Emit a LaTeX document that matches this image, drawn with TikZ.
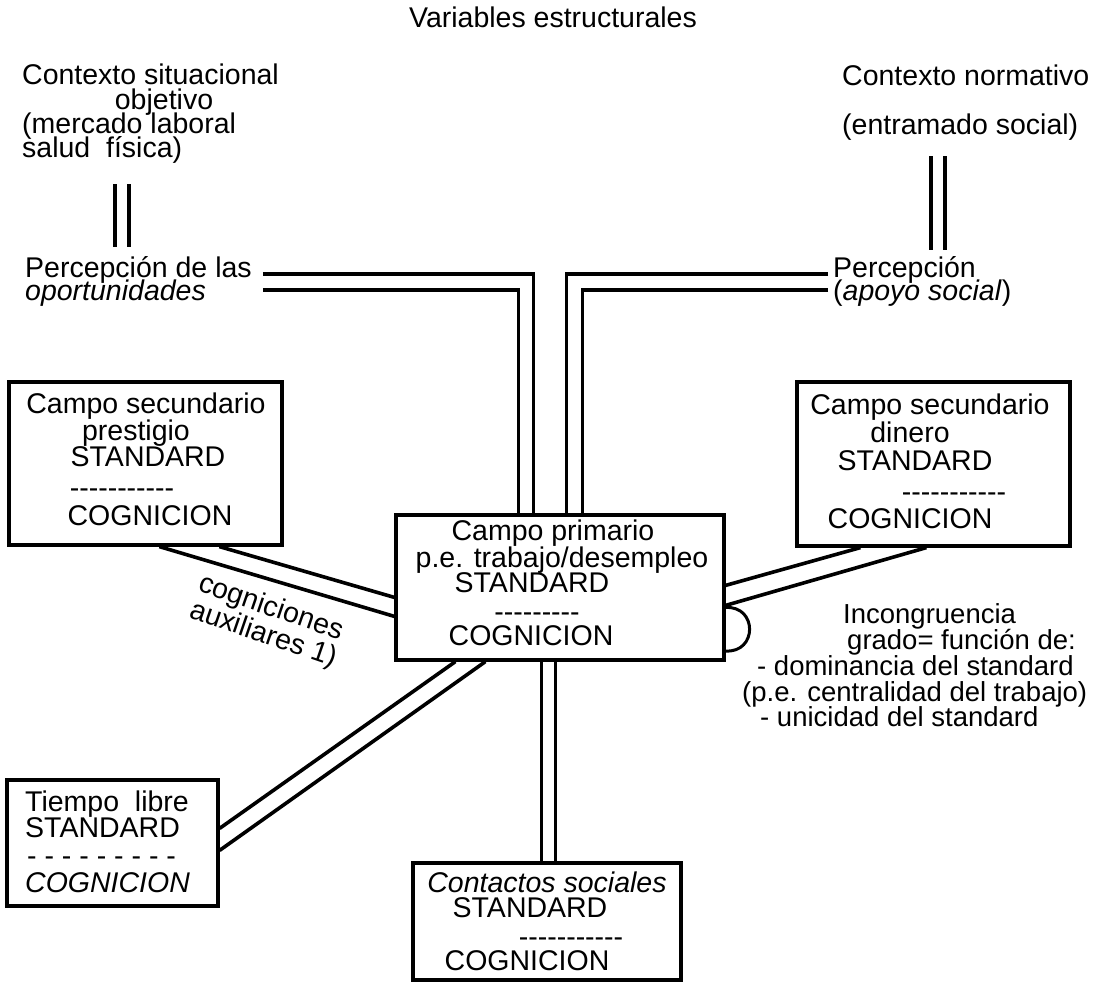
\documentclass[tikz,border=0pt]{standalone}
\usepackage{fontspec}
\newfontfamily\lsans{Liberation Sans}
\usetikzlibrary{calc}
\newcommand{\dsh}{-\kern0pt }
\begin{document}
\begin{tikzpicture}[x=1pt,y=-1pt,
  txt/.style={font=\lsans\fontsize{28.5}{30}\selectfont, inner sep=0pt, text height=16pt, text depth=5pt},
  stxt/.style={font=\lsans\fontsize{27.5}{29}\selectfont, inner sep=0pt, text height=16pt, text depth=5pt, anchor=west},
  fbox/.style={draw, line width=3.2pt, inner sep=0pt},
  conn/.style={line width=3.6pt}
]
\useasboundingbox (0,0) rectangle (1107,984);
\fill[white] (0,0) rectangle (1107,984);

% title
\node[txt] (title) at (553,22) {Variables estructurales};

% top left
\node[txt,anchor=west] (cs1) at (22,79) {Contexto situacional};
\node[txt] (cs2) at (164,104) {objetivo};
\node[txt,anchor=west] (cs3) at (22,128) {(mercado laboral};
\node[txt,anchor=west] (cs4) at (22,152) {salud\ \ física)};
\node[txt,anchor=west] (perc1) at (25,272) {Percepción de las};
\node[txt,anchor=west] (perc2) at (25,295) {\itshape oportunidades};

% top right
\node[txt,anchor=west] (cn1) at (842,80) {Contexto normativo};
\node[txt,anchor=west] (cn2) at (842,129) {(entramado social)};
\node[txt,anchor=west] (pr1) at (833,272) {Percepción};
\node[txt,anchor=west] (pr2) at (833,295) {(\textit{apoyo social})};

% boxes
\node[fbox, minimum width=273pt, minimum height=163pt] (prest) at (145.5,463.5) {};
\node[fbox, minimum width=273pt, minimum height=164pt] (din) at (933.5,464) {};
\node[fbox, minimum width=328pt, minimum height=145pt] (prim) at (560,587.5) {};
\node[fbox, minimum width=211pt, minimum height=126pt] (tiem) at (112.5,843) {};
\node[fbox, minimum width=268pt, minimum height=117pt] (cont) at (547,921.5) {};

% prestigio box text
\node[txt] (pt1) at (146,408) {Campo secundario};
\node[txt] (pt2) at (136,435) {prestigio};
\node[txt] (pt3) at (148,461) {STANDARD};
\node[txt] (pt4) at (122,492) {\dsh\dsh\dsh\dsh\dsh\dsh\dsh\dsh\dsh\dsh\dsh};
\node[txt] (pt5) at (150,520) {COGNICION};

% dinero box text
\node[txt] (dt1) at (930,409) {Campo secundario};
\node[txt] (dt2) at (910,437) {dinero};
\node[txt] (dt3) at (915,465) {STANDARD};
\node[txt] (dt4) at (954,496) {\dsh\dsh\dsh\dsh\dsh\dsh\dsh\dsh\dsh\dsh\dsh};
\node[txt] (dt5) at (910,523) {COGNICION};

% primary box text
\node[txt] (mt1) at (553,535) {Campo primario};
\node[txt] (mt2) at (562,562) {p.e. trabajo/desempleo};
\node[txt] (mt3) at (532,587) {STANDARD};
\node[txt] (mt4) at (537,616) {\dsh\dsh\dsh\dsh\dsh\dsh\dsh\dsh\dsh};
\node[txt] (mt5) at (531,640) {COGNICION};

% tiempo libre box text
\node[txt,anchor=west] (tt1) at (25,806) {Tiempo\ \ libre};
\node[txt,anchor=west] (tt2) at (25,832) {STANDARD};
\node[txt,anchor=west] (tt3) at (27,860) {- - - - - - - - -};
\node[txt,anchor=west] (tt4) at (25,887) {\itshape COGNICION};

% contactos box text
\node[txt] (ct1) at (547,887) {\itshape Contactos sociales};
\node[txt] (ct2) at (530,912) {STANDARD};
\node[txt] (ct3) at (571,941) {\dsh\dsh\dsh\dsh\dsh\dsh\dsh\dsh\dsh\dsh\dsh};
\node[txt] (ct4) at (527,965) {COGNICION};

% incongruencia text
\node[stxt] (inc1) at (843,618) {Incongruencia};
\node[stxt] (inc2) at (847,644) {grado= función de:};
\node[stxt] (inc3) at (757,670) {- dominancia del standard};
\node[stxt] (inc4) at (742,696) {(p.e. centralidad del trabajo)};
\node[stxt] (inc5) at (760,721) {- unicidad del standard};

% rotated label
\node[font=\lsans\fontsize{28.5}{25}\selectfont, inner sep=0pt, align=left, rotate=-19] (aux) at (268,622) {cogniciones\\auxiliares 1)};

% connectors: top left
\draw[conn] ($(cs4.south west)+(93,21.5)$) -- ($(perc1.north west)+(90,-14.5)$);
\draw[conn] ($(cs4.south west)+(107,21.5)$) -- ($(perc1.north west)+(104,-14.5)$);
% connectors: top right
\draw[conn] ($(cn2.south west)+(89,16.5)$) -- ($(pr1.north west)+(98,-11.5)$);
\draw[conn] ($(cn2.south west)+(103,16.5)$) -- ($(pr1.north west)+(112,-11.5)$);
% perception to primary
\draw[conn] ($(perc1.east)+(11,2)$) -| ($(prim.north west)+(139,0)$);
\draw[conn] ($(perc1.east)+(11,18)$) -| ($(prim.north west)+(124,0)$);
\draw[conn] ($(pr1.west)+(-5,2)$) -| ($(prim.north west)+(172,0)$);
\draw[conn] ($(pr1.west)+(-5,18)$) -| ($(prim.north west)+(188,0)$);
% secondary fields to primary
\draw[conn] ($(prest.south west)+(212,0)$) -- ($(prim.north west)+(0,84)$);
\draw[conn] ($(prest.south west)+(152,0)$) -- ($(prim.north west)+(0,103)$);
\draw[conn] ($(din.south west)+(65,0)$) -- ($(prim.north east)+(0,72)$);
\draw[conn] ($(din.south west)+(131,0)$) -- ($(prim.north east)+(0,92)$);
% primary to tiempo libre and contactos
\draw[conn] ($(prim.south west)+(61,0)$) -- ($(tiem.north east)+(0,50)$);
\draw[conn] ($(prim.south west)+(91,0)$) -- ($(tiem.north east)+(0,72)$);
\draw[conn] ($(prim.south west)+(147,0)$) -- ($(cont.north west)+(130,0)$);
\draw[conn] ($(prim.south west)+(161,0)$) -- ($(cont.north west)+(144,0)$);
% incongruence loop
\draw[line width=3pt] ($(prim.east)+(0,20)$) .. controls +(32,-2) and +(32,2) .. ($(prim.east)+(0,63.5)$);
\end{tikzpicture}
\end{document}
